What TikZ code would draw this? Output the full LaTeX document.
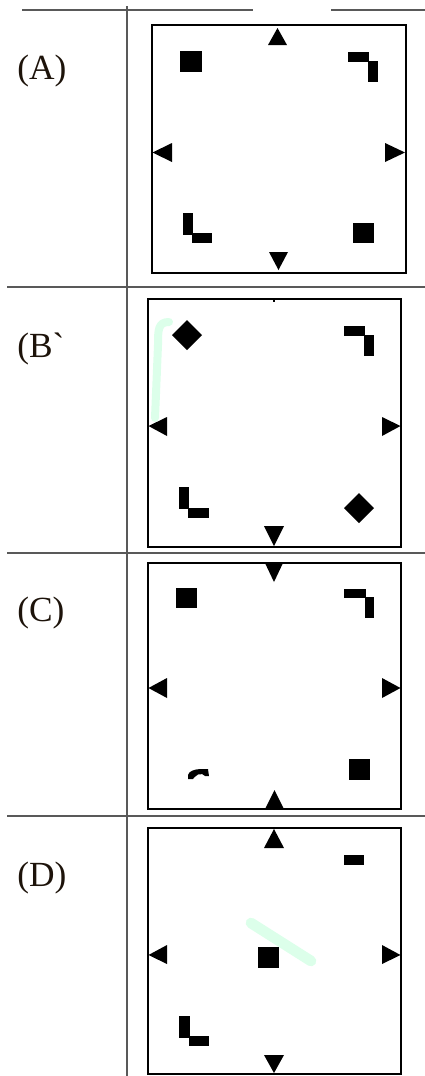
\documentclass[tikz,border=0pt]{standalone}
\usepackage{fontspec}
\setmainfont{Liberation Serif}
\begin{document}
\begin{tikzpicture}[x=0.75pt,y=-0.75pt,
  tableline/.style={draw=black!65,line width=0.8pt},
  panel/.style={draw=black,line width=1.5pt},
  glyph/.style={fill=black,draw=none},
  smudge/.style={draw=green!60!cyan!25,line width=6pt,line cap=round,opacity=0.55},
  lbl/.style={anchor=west,inner sep=0pt,text=black!85!brown,font=\fontsize{26.5}{31}\selectfont}]
\useasboundingbox (0,0) rectangle (425,1076);
% table rules
\draw[tableline] (22,10) -- (253,10);
\draw[tableline] (331,10) -- (425,10);
\draw[tableline] (7,287) -- (425,287);
\draw[tableline] (7,553) -- (425,553);
\draw[tableline] (7,816) -- (425,816);
\draw[tableline] (127,6) -- (127,1076);
% labels
\node[lbl] (la) at (17,71) {(A)};
\node[lbl] (lb) at (17,349) {(B\textasciigrave};
\node[lbl] (lc) at (17,613) {(C)};
\node[lbl] (ld) at (17,878) {(D)};
% smudges
\draw[smudge] (169,322) .. controls (158,322) and (158,330) .. (158,345) -- (155,418);
\draw[smudge,line width=8pt] (251,923) -- (311,961);
% ---------- panel A ----------
\draw[panel] (152,25) rectangle (406,273);
\fill[glyph] (180,51) rectangle (202,72);
\fill[glyph] (268,45) -- (287,45) -- (277.5,28) -- cycle;
\fill[glyph] (348,52) rectangle (368.5,62);
\fill[glyph] (368,61) rectangle (378,82);
\fill[glyph] (152.5,152.5) -- (172,143) -- (172,162) -- cycle;
\fill[glyph] (405,152.5) -- (385,143) -- (385,162) -- cycle;
\fill[glyph] (183,213) rectangle (192.5,235);
\fill[glyph] (192,233) rectangle (212,243);
\fill[glyph] (353,223) rectangle (374,243);
\fill[glyph] (269,252) -- (288,252) -- (278.5,270) -- cycle;
% ---------- panel B ----------
\draw[panel] (148,299) rectangle (401,547);
\draw[line width=0.8pt] (274,299) -- (274,302);
\fill[glyph] (187,320) -- (202,335) -- (187,350) -- (172,335) -- cycle;
\fill[glyph] (344,326) rectangle (364.5,336);
\fill[glyph] (364,335) rectangle (374,356);
\fill[glyph] (148.5,426) -- (167,417) -- (167,436) -- cycle;
\fill[glyph] (400.5,426) -- (382,417) -- (382,436) -- cycle;
\fill[glyph] (179,487) rectangle (188.5,509);
\fill[glyph] (188,508) rectangle (209,518);
\fill[glyph] (359,493) -- (374,508) -- (359,523) -- (344,508) -- cycle;
\fill[glyph] (264,526) -- (284,526) -- (274,546) -- cycle;
% ---------- panel C ----------
\draw[panel] (148,563) rectangle (401,809);
\fill[glyph] (265,563) -- (283,563) -- (274,582) -- cycle;
\fill[glyph] (176,588) rectangle (197,608);
\fill[glyph] (344,589) rectangle (365.5,598);
\fill[glyph] (365,597) rectangle (374,618);
\fill[glyph] (148.5,688) -- (167,678) -- (167,698) -- cycle;
\fill[glyph] (400.5,688) -- (382,678) -- (382,698) -- cycle;
\fill[glyph] (188,779) -- (188,775) .. controls (189,771) and (194,769.5) .. (200,769)
  -- (208,769) -- (209,776) -- (205,776) .. controls (204,774) and (201,773.5) .. (198,774.5)
  .. controls (195,776) and (194,778) .. (193,779) -- cycle;
\fill[glyph] (349,759) rectangle (370,780);
\fill[glyph] (265,809) -- (284,809) -- (274.5,790) -- cycle;
% ---------- panel D ----------
\draw[panel] (148,828) rectangle (401,1074);
\fill[glyph] (264,848) -- (284,848) -- (274,829) -- cycle;
\fill[glyph] (344,855) rectangle (364,865);
\fill[glyph] (148.5,955) -- (167,945) -- (167,964) -- cycle;
\fill[glyph] (400.5,955) -- (382,945) -- (382,964) -- cycle;
\fill[glyph] (258,947) rectangle (279,968);
\fill[glyph] (179,1016) rectangle (189.5,1038);
\fill[glyph] (189,1036) rectangle (209,1046);
\fill[glyph] (264,1055) -- (284,1055) -- (274,1073) -- cycle;
\end{tikzpicture}
\end{document}
